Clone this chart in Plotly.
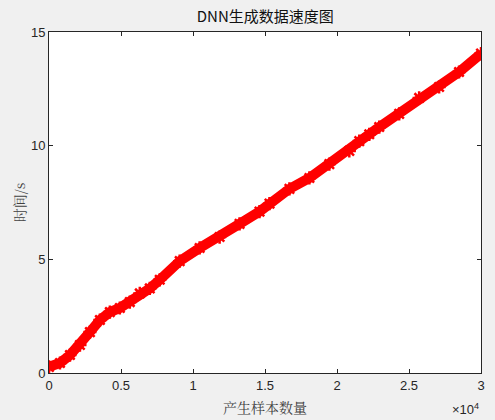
import plotly.graph_objects as go

# Values
samples = [0, 762, 1455, 2148, 2841, 3533, 4226, 4919, 5612, 6305, 6998, 7690,
           9076, 10462, 11848, 13233, 14619, 15312, 16697, 18083, 19469,
           20855, 21547, 22240, 22933, 24319, 25704, 27090, 28476, 30000]
seconds = [0.27, 0.44, 0.79, 1.23, 1.80, 2.33, 2.68, 2.86, 3.12, 3.50, 3.72, 4.10,
           4.92, 5.50, 5.98, 6.56, 7.10, 7.45, 8.10, 8.58, 9.19,
           9.77, 10.20, 10.50, 10.82, 11.40, 12.10, 12.58, 13.24, 14.05]

x_ticks = [0, 5000, 10000, 15000, 20000, 25000, 30000]
x_tick_labels = ["0", "0.5", "1", "1.5", "2", "2.5", "3"]
y_ticks = [0, 5, 10, 15]
y_tick_labels = ["0", "5", "10", "15"]

RED = "#ff0000"
AX = "#262626"
FONT = "Liberation Sans, Arial, sans-serif"
CJK = "Noto Sans CJK SC"
SERIF = "Noto Serif CJK SC, " + CJK

fig = go.Figure()
fig.add_trace(go.Scatter(
    x=samples, y=seconds, mode="lines+markers",
    line=dict(color=RED, width=10),
    marker=dict(symbol="asterisk-open", size=11, color=RED,
                line=dict(color=RED, width=2.5)),
    showlegend=False, hoverinfo="skip",
))

axis_common = dict(
    showline=True, linecolor=AX, linewidth=1, mirror="ticks",
    ticks="inside", ticklen=4, tickcolor=AX, tickwidth=1,
    showgrid=False, zeroline=False,
    tickfont=dict(family=FONT, size=13, color=AX),
)

fig.update_layout(
    width=495, height=420,
    margin=dict(l=49, r=10, t=32, b=47),
    paper_bgcolor="#f0f0f0", plot_bgcolor="#ffffff",
    title=dict(text="DNN生成数据速度图", x=0.536, xanchor="center",
               y=1 - 17 / 420, yanchor="middle",
               font=dict(family=CJK, size=15, color="#111111")),
    xaxis=dict(range=[0, 30000], tickvals=x_ticks, ticktext=x_tick_labels,
               **axis_common),
    yaxis=dict(range=[0, 15], tickvals=y_ticks, ticktext=y_tick_labels,
               **axis_common),
    annotations=[
        dict(text="产生样本数量", xref="paper", yref="paper", x=0.5, y=-0.065,
             xanchor="center", yanchor="top", showarrow=False,
             font=dict(family=SERIF, size=14, color="#404040")),
        dict(text="时间/s", xref="paper", yref="paper", x=-0.07, y=0.5,
             xanchor="center", yanchor="middle", textangle=-90, showarrow=False,
             font=dict(family=SERIF, size=14, color="#404040")),
        dict(text="×10<sup>4</sup>", xref="paper", yref="paper", x=1.0, y=-0.075,
             xanchor="right", yanchor="top", showarrow=False,
             font=dict(family=FONT, size=13, color=AX)),
    ],
)

fig.write_html("out.html", config={"displayModeBar": False},
               post_script="document.body.style.margin='0';document.body.style.overflow='hidden';")
